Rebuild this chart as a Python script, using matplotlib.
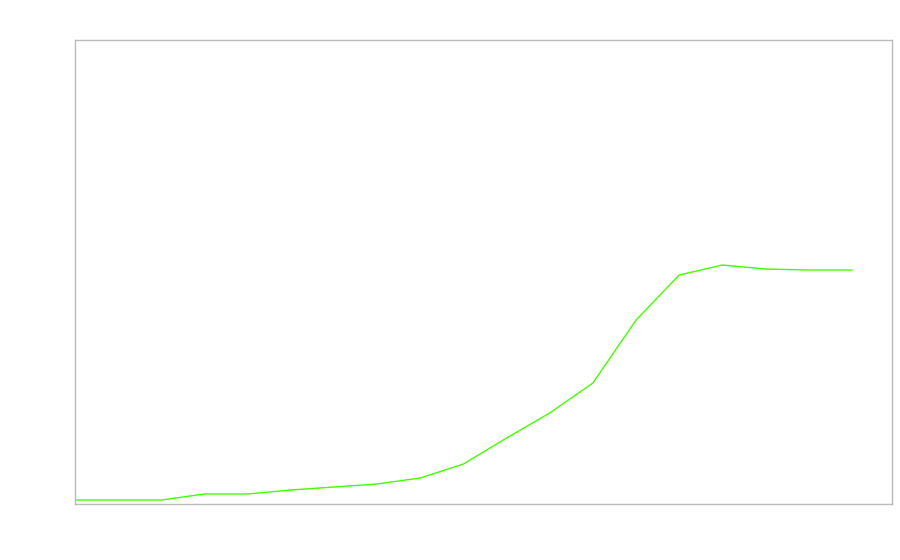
import numpy as np
from matplotlib import pyplot as plt

steps = list(range(19))
values = [4, 4, 4, 10, 10, 14, 17, 20, 26, 40, 66, 91, 121, 184, 229, 239, 235, 234, 234]

fig = plt.figure(figsize=(9, 5.6), dpi=100)
ax = fig.add_axes([75 / 900, 1 - 504 / 560, (892 - 75) / 900, (504 - 40) / 560])
ax.plot(steps, values, color="#44ff00", linewidth=1)
ax.set_xlim(0, 18.93)
ax.set_ylim(0, 464)
ax.set_xticks([])
ax.set_yticks([])
for s in ax.spines.values():
    s.set_color("#bbbbbb")
    s.set_linewidth(1)
fig.savefig("out.png", dpi=100)
